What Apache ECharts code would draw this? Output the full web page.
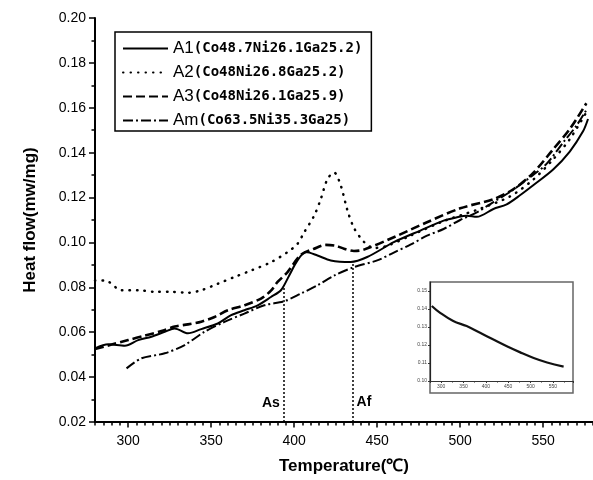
<!DOCTYPE html>
<html><head><meta charset="utf-8">
<script src="https://cdn.jsdelivr.net/npm/echarts@6/dist/echarts.min.js"></script>
<style>html,body{margin:0;padding:0;background:#fff}#c{width:593px;height:480px}</style>
</head><body><div id="c"></div>
<script>
// ---- data ----
const seriesCodes = ['A1', 'A2', 'A3', 'Am'];
const compositions = ['(Co48.7Ni26.1Ga25.2)', '(Co48Ni26.8Ga25.2)', '(Co48Ni26.1Ga25.9)', '(Co63.5Ni35.3Ga25)'];

const a1 = [[280,0.0528],[288,0.0546],[298,0.054],[306,0.0565],[314,0.058],[322,0.0602],[328,0.0617],[336,0.0595],[344,0.0614],[354,0.0639],[362,0.0676],[370,0.0698],[378,0.072],[386,0.0757],[392,0.0787],[397,0.0853],[402,0.092],[407,0.0957],[414,0.0942],[422,0.092],[434,0.0913],[444,0.0935],[460,0.1001],[476,0.1053],[490,0.1097],[498,0.1112],[504,0.1119],[510,0.1114],[520,0.1149],[528,0.117],[536,0.121],[544,0.1255],[556,0.1325],[566,0.1405],[574,0.1495],[577,0.155]];
const a2 = [[280,0.0831],[286,0.0831],[296,0.0787],[306,0.0787],[316,0.078],[326,0.078],[336,0.0776],[344,0.0787],[354,0.0816],[364,0.0846],[374,0.0875],[386,0.0912],[396,0.0957],[402,0.0994],[406,0.1045],[412,0.1119],[416,0.1193],[420,0.1282],[424,0.1312],[428,0.1255],[432,0.1145],[436,0.1065],[442,0.1003],[448,0.0975],[456,0.0985],[470,0.103],[490,0.1095],[510,0.1145],[530,0.1205],[544,0.128],[556,0.137],[566,0.146],[576,0.158]];
const a3 = [[280,0.0525],[290,0.0545],[300,0.0565],[310,0.0585],[320,0.0605],[328,0.0625],[336,0.0635],[344,0.0647],[352,0.0668],[360,0.0698],[370,0.072],[380,0.075],[386,0.0785],[390,0.0824],[396,0.0868],[404,0.0945],[412,0.0972],[419,0.0989],[425,0.0985],[430,0.0972],[436,0.0962],[442,0.0968],[460,0.1023],[480,0.109],[500,0.1152],[520,0.1193],[532,0.1237],[544,0.131],[556,0.1415],[566,0.1505],[576,0.162]];
const am = [[299,0.0439],[308,0.0484],[322,0.0506],[334,0.0543],[346,0.0602],[358,0.0646],[370,0.0683],[382,0.072],[394,0.0738],[404,0.0772],[414,0.0809],[424,0.0852],[436,0.089],[450,0.092],[460,0.0955],[470,0.099],[480,0.103],[490,0.106],[500,0.11],[510,0.1134],[520,0.118],[530,0.1225],[542,0.129],[552,0.135],[562,0.1445],[570,0.152],[576,0.159]];

const transitionTemps = [394, 435];
const transitionTops = [0.081, 0.0913];
const transitionLabels = ['As', 'Af'];
const transitionLabelPos = [[386, 0.0285], [442, 0.0289]];

const insetTemp = [279, 297, 327, 357, 387, 417, 447, 477, 507, 537, 574];
const insetFlow = [0.1417, 0.138, 0.1333, 0.1305, 0.1268, 0.123, 0.1193, 0.1159, 0.1128, 0.1103, 0.108];

// ---- chart ----
const names = seriesCodes.map((c, i) => c + compositions[i]);
const styles = [
  { color: '#000', width: 2, type: 'solid' },
  { color: '#000', width: 2.5, type: [0.5, 7], cap: 'round' },
  { color: '#000', width: 2.6, type: [9, 4] },
  { color: '#000', width: 2, type: [10, 3, 2, 3] }
];
const datas = [a1, a2, a3, am];
const FONT = 'Liberation Sans';

const chart = echarts.init(document.getElementById('c'), null, { renderer: 'canvas' });

const series = datas.map((d, i) => ({
  name: names[i],
  type: 'line',
  xAxisIndex: 1,
  yAxisIndex: 0,
  data: d,
  symbol: 'none',
  showSymbol: false,
  smooth: 0.3,
  lineStyle: styles[i],
  itemStyle: { color: '#000' },
  z: 3
}));

series[0].markLine = {
  silent: true,
  symbol: 'none',
  animation: false,
  label: { show: false },
  lineStyle: { color: '#000', width: 1.5, type: [2, 2] },
  data: transitionTemps.map((t, i) => [{ coord: [t, 0.02] }, { coord: [t, transitionTops[i]] }])
};
series[0].markPoint = {
  silent: true,
  symbol: 'circle',
  symbolSize: 0,
  animation: false,
  label: {
    show: true, position: 'inside', color: '#000',
    fontFamily: FONT, fontWeight: 'bold', fontSize: 14,
    formatter: p => p.name
  },
  data: transitionLabels.map((n, i) => ({ name: n, coord: transitionLabelPos[i] }))
};

series.push({
  name: 'inset',
  type: 'line',
  xAxisIndex: 2,
  yAxisIndex: 1,
  data: insetTemp.map((t, i) => [t, insetFlow[i]]),
  symbol: 'none',
  smooth: 0.4,
  lineStyle: { color: '#111', width: 2.2 },
  z: 3
});

chart.setOption({
  animation: false,
  backgroundColor: '#fff',
  grid: [
    { left: 95, right: -4, top: 18, bottom: 57 },
    { left: 430, top: 282, width: 143, height: 99 }
  ],
  legend: {
    orient: 'vertical',
    left: 115, top: 32,
    padding: [8, 9, 2, 7],
    itemGap: 7,
    itemWidth: 45,
    itemHeight: 14,
    borderColor: '#000',
    borderWidth: 1.5,
    selectedMode: false,
    data: names,
    itemStyle: { opacity: 0, borderWidth: 0 },
    formatter: n => {
      const k = n.indexOf('(');
      return '{a|' + n.slice(0, k) + '}{b|' + n.slice(k) + '}';
    },
    textStyle: {
      rich: {
        a: { fontFamily: FONT, fontSize: 17, color: '#000', lineHeight: 16 },
        b: { fontFamily: 'DejaVu Sans Mono', fontWeight: 'bold', fontSize: 14, color: '#000', lineHeight: 16 }
      }
    }
  },
  graphic: [{
    type: 'rect', silent: true, z: 0,
    shape: { x: 430, y: 282, width: 143, height: 111 },
    style: { fill: 'none', stroke: '#666', lineWidth: 1.5 }
  }],
  xAxis: [
    { // minor ticks
      type: 'value', gridIndex: 0, position: 'bottom', min: 280, max: 580, interval: 5,
      axisLine: { show: false },
      axisTick: { show: true, length: 3.5, lineStyle: { color: '#000', width: 1.5 } },
      axisLabel: { show: false },
      splitLine: { show: false }
    },
    { // major
      type: 'value', gridIndex: 0, position: 'bottom', min: 280, max: 580,
      name: 'Temperature(℃)', nameLocation: 'middle', nameGap: 36,
      nameTextStyle: { fontFamily: FONT, fontWeight: 'bold', fontSize: 17, color: '#000' },
      axisLine: { show: true, lineStyle: { color: '#000', width: 2 } },
      axisTick: { show: true, length: 5.5, lineStyle: { color: '#000', width: 1.5 } },
      axisLabel: { show: true, fontFamily: FONT, fontSize: 14, color: '#000', margin: 12, showMinLabel: false, showMaxLabel: false },
      splitLine: { show: false }
    },
    { // inset
      type: 'value', gridIndex: 1, min: 275, max: 595,
      axisLine: { show: true, lineStyle: { color: '#333', width: 1 } },
      axisTick: { show: true, length: 2, lineStyle: { color: '#333' } },
      minorTick: { show: true, splitNumber: 2, length: 1.5, lineStyle: { color: '#333' } },
      axisLabel: { show: true, fontSize: 5, color: '#444', margin: 3, showMinLabel: false, showMaxLabel: false },
      splitLine: { show: false }
    }
  ],
  yAxis: [
    {
      type: 'value', gridIndex: 0, min: 0.02, max: 0.20, interval: 0.02,
      name: 'Heat flow(mw/mg)', nameLocation: 'middle', nameGap: 56,
      nameTextStyle: { fontFamily: FONT, fontWeight: 'bold', fontSize: 17, color: '#000' },
      axisLine: { show: true, lineStyle: { color: '#000', width: 2 } },
      axisTick: { show: true, length: 6, lineStyle: { color: '#000', width: 1.5 } },
      minorTick: { show: true, splitNumber: 2, length: 3.5, lineStyle: { color: '#000', width: 1.5 } },
      axisLabel: { fontFamily: FONT, fontSize: 14, color: '#000', margin: 9, formatter: v => v.toFixed(2) },
      splitLine: { show: false }
    },
    {
      type: 'value', gridIndex: 1, min: 0.10, max: 0.155, interval: 0.01,
      axisLine: { show: true, lineStyle: { color: '#222', width: 1.2 } },
      axisTick: { show: true, length: 2, lineStyle: { color: '#333' } },
      axisLabel: { show: true, fontSize: 5, color: '#444', margin: 3, showMaxLabel: false, formatter: v => v.toFixed(2) },
      splitLine: { show: false }
    }
  ],
  series: series
});
</script>
</body></html>
